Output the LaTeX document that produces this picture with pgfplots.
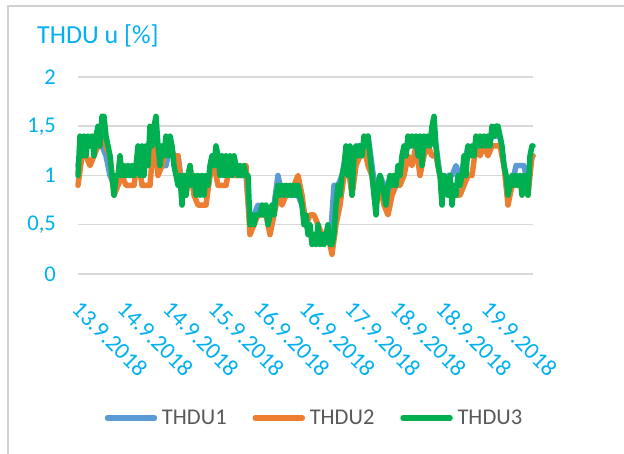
\documentclass[border=0pt]{standalone}
\usepackage{pgfplots}
\pgfplotsset{compat=1.18}
\usepackage{fontspec}
\setmainfont{Carlito}
\definecolor{cA}{HTML}{5B9BD5}
\definecolor{cB}{HTML}{ED7D31}
\definecolor{cC}{HTML}{00B050}
\definecolor{tickc}{HTML}{00B0F0}
\definecolor{legc}{HTML}{595959}
\definecolor{gridc}{HTML}{D9D9D9}
\definecolor{framec}{HTML}{D0D0D0}
\begin{document}
\begin{tikzpicture}
\useasboundingbox (0,0) rectangle (624pt,454pt);
\draw[framec, line width=1.5pt] (7.8pt,0pt) -- (7.8pt,448.2pt) -- (624pt,448.2pt);
\node[anchor=base west, inner sep=0pt, text=tickc, font=\fontsize{26}{30}\selectfont] at (37pt,410.7pt) {THDU u [\%]};
\begin{axis}[
  at={(78pt,180pt)}, anchor=south west,
  scale only axis, width=455pt, height=197pt,
  xmin=78, xmax=533, ymin=0, ymax=2,
  clip=false,
  axis line style={draw=none},
  major tick length=0pt,
  ymajorgrids, grid style={gridc, line width=1.5pt},
  ytick={0,0.5,1,1.5,2},
  xtick={78,123.5,169,214.5,260,305.5,351,396.5,442,487.5},
  xticklabels={13.9.2018,14.9.2018,14.9.2018,15.9.2018,16.9.2018,16.9.2018,17.9.2018,18.9.2018,18.9.2018,19.9.2018},
  /pgf/number format/assume math mode=true,
  /pgf/number format/use comma,
  yticklabel={\pgfmathprintnumber{\tick}\hspace*{22pt}},
  xticklabel shift=25pt,
  yticklabel style={font=\fontsize{22.5}{26}\selectfont, text=tickc, anchor=east, inner sep=0pt},
  xticklabel style={font=\fontsize{23.5}{27}\selectfont, text=tickc, inner sep=0pt, xshift=4pt, rotate=-45, anchor=north west},
  every axis plot/.append style={line join=round, line cap=round},
  legend columns=3,
  legend image code/.code={\path[draw=none,fill=none] (0pt,-3pt) rectangle (53pt,3pt); \draw[#1, line cap=round] (3pt,0pt) -- (50pt,0pt);},
  legend style={at={(0.0578,-0.731)}, anchor=west, draw=none, fill=none, inner sep=0pt,
    font=\fontsize{22.5}{26}\selectfont, text=legc,
    nodes={inner sep=0pt},
    /tikz/every odd column/.append style={column sep=4.5pt},
    /tikz/every even column/.append style={column sep=25.6pt}},
]
\addplot[cA, line width=5.5pt] coordinates {
(78,1.1)(82,1.3)(86,1.3)(90,1.3)(94,1.3)(98,1.4)(102,1.3)(106,1.2)(110,1.0)(114,0.9)
(118,1.0)(122,1.0)(126,1.0)(130,1.0)(134,1.0)(138,1.1)(142,1.1)(146,1.2)(150,1.3)(154,1.4)
(158,1.3)(162,1.1)(166,1.1)(170,1.3)(174,1.2)(178,1.2)(182,0.9)(186,0.9)(190,1.0)(194,0.9)
(198,0.9)(202,0.9)(206,0.9)(210,1.0)(214,1.1)(218,1.1)(222,1.1)(226,1.1)(230,1.1)(234,1.0)
(238,1.0)(242,1.0)(246,1.0)(250,0.5)(254,0.6)(258,0.7)(262,0.6)(266,0.6)(270,0.6)(274,0.7)
(278,1.0)(282,0.8)(286,0.8)(290,0.8)(294,0.8)(298,0.8)(302,0.7)(306,0.5)(310,0.4)(314,0.4)
(318,0.4)(322,0.4)(326,0.4)(330,0.3)(334,0.9)(338,0.9)(342,1.0)(346,1.2)(350,1.2)(354,1.2)
(358,1.3)(362,1.3)(366,1.3)(368,1.4)(372,1.1)(376,0.8)(380,1.0)(384,0.9)(388,0.8)(392,0.9)
(396,0.9)(400,1.0)(404,1.2)(408,1.3)(412,1.3)(416,1.3)(420,1.3)(424,1.3)(428,1.3)(432,1.4)
(436,1.3)(440,1.0)(444,0.9)(448,1.0)(452,1.0)(456,1.1)(460,1.0)(464,1.1)(468,1.3)(472,1.2)
(476,1.3)(480,1.3)(484,1.3)(488,1.3)(492,1.4)(496,1.4)(500,1.4)(504,1.1)(508,0.9)(512,0.9)
(516,1.1)(520,1.1)(524,1.1)(528,0.9)(532,1.2)(533,1.2)
};
\addplot[cB, line width=5.5pt] coordinates {
(78,0.9)(82,1.2)(86,1.2)(90,1.1)(94,1.2)(98,1.3)(102,1.5)(106,1.3)(110,1.2)(114,0.8)
(118,0.9)(122,1.0)(126,0.9)(130,0.9)(134,0.9)(138,1.2)(142,0.9)(146,0.9)(150,0.9)(154,1.4)
(158,1.0)(162,1.1)(166,1.3)(170,1.3)(174,1.2)(178,1.2)(182,0.8)(186,0.8)(190,1.1)(194,0.8)
(198,0.7)(202,0.7)(206,0.7)(210,1.0)(214,1.1)(218,0.9)(222,0.9)(226,0.9)(230,1.1)(234,1.0)
(238,1.0)(242,1.0)(246,1.1)(250,0.4)(254,0.5)(258,0.6)(262,0.6)(266,0.6)(270,0.4)(274,0.6)
(278,0.8)(282,0.7)(286,0.8)(290,0.8)(294,0.9)(298,1.0)(302,0.8)(306,0.5)(310,0.6)(314,0.6)
(318,0.5)(322,0.4)(326,0.4)(330,0.3)(332,0.2)(336,0.5)(340,0.7)(344,1.0)(348,1.1)(352,0.8)
(356,1.1)(360,1.2)(364,1.3)(368,1.1)(372,1.0)(376,0.7)(380,0.9)(384,0.7)(388,0.6)(392,0.8)
(396,0.9)(400,0.9)(404,1.0)(408,1.2)(412,1.1)(416,1.3)(420,1.0)(424,1.2)(428,1.3)(432,1.2)
(436,1.2)(440,1.0)(444,0.9)(448,0.8)(452,0.8)(456,0.8)(460,0.8)(464,0.9)(468,1.0)(472,1.0)
(476,1.3)(480,1.2)(484,1.3)(488,1.2)(492,1.3)(496,1.3)(500,1.3)(504,1.1)(508,0.7)(512,0.9)
(516,0.9)(520,0.9)(524,0.9)(528,0.8)(532,1.2)(533,1.2)
};
\addplot[cC, line width=5.5pt] coordinates {
(78,1.0)(80,1.4)(82,1.2)(84,1.4)(86,1.2)(88,1.4)(90,1.3)(92,1.4)(94,1.2)(96,1.4)
(98,1.5)(100,1.3)(102,1.6)(104,1.6)(106,1.4)(108,1.3)(110,1.2)(112,1.0)(114,0.8)(116,1.0)
(118,1.0)(120,1.2)(122,1.0)(124,1.1)(126,1.0)(128,1.1)(130,1.0)(132,1.1)(134,1.0)(136,1.1)
(138,1.3)(140,1.0)(142,1.3)(144,1.0)(146,1.3)(148,1.1)(150,1.5)(152,1.3)(154,1.5)(156,1.6)
(158,1.3)(160,1.1)(162,1.3)(164,1.2)(166,1.4)(168,1.2)(170,1.4)(172,1.3)(174,1.1)(176,1.0)
(178,0.9)(180,1.0)(182,0.7)(184,1.0)(186,0.8)(188,1.0)(190,1.1)(192,0.9)(194,1.0)(196,0.8)
(198,1.0)(200,0.8)(202,1.0)(204,0.8)(206,1.0)(208,0.9)(210,1.1)(212,1.2)(214,1.1)(216,1.3)
(218,1.2)(220,1.0)(222,1.2)(224,1.0)(226,1.2)(228,1.0)(230,1.2)(232,1.0)(234,1.2)(236,1.1)
(238,1.0)(240,1.1)(242,1.0)(244,1.1)(246,1.0)(248,1.0)(250,0.5)(252,0.6)(254,0.5)(256,0.6)
(258,0.6)(260,0.6)(262,0.7)(264,0.6)(266,0.7)(268,0.5)(270,0.6)(272,0.7)(274,0.6)(276,0.8)
(278,0.9)(280,0.8)(282,0.9)(284,0.8)(286,0.9)(288,0.8)(290,0.9)(292,0.8)(294,0.9)(296,0.8)
(298,0.9)(300,0.8)(302,0.7)(304,0.5)(306,0.6)(308,0.4)(310,0.5)(312,0.3)(314,0.4)(316,0.3)
(318,0.5)(320,0.3)(322,0.4)(324,0.3)(326,0.4)(328,0.5)(330,0.3)(332,0.3)(334,0.4)(336,0.7)
(338,0.9)(340,0.8)(342,1.0)(344,1.1)(346,1.3)(348,1.0)(350,1.3)(352,0.8)(354,1.2)(356,1.3)
(358,1.2)(360,1.3)(362,1.2)(364,1.4)(366,1.3)(368,1.4)(370,1.2)(372,1.0)(374,0.8)(376,0.6)
(378,0.9)(380,1.0)(382,0.9)(384,0.8)(386,0.7)(388,0.9)(390,1.0)(392,0.9)(394,1.0)(396,0.9)
(398,1.1)(400,1.0)(402,1.2)(404,1.3)(406,1.2)(408,1.4)(410,1.3)(412,1.4)(414,1.3)(416,1.4)
(418,1.2)(420,1.4)(422,1.1)(424,1.4)(426,1.3)(428,1.4)(430,1.3)(432,1.5)(434,1.6)(436,1.3)
(438,1.1)(440,1.0)(442,0.7)(444,1.0)(446,0.9)(448,0.8)(450,1.0)(452,0.7)(454,0.9)(456,0.8)
(458,1.0)(460,0.9)(462,1.0)(464,1.2)(466,1.0)(468,1.3)(470,1.2)(472,1.3)(474,1.2)(476,1.4)
(478,1.3)(480,1.4)(482,1.3)(484,1.4)(486,1.3)(488,1.4)(490,1.3)(492,1.5)(494,1.4)(496,1.5)
(498,1.5)(500,1.4)(502,1.3)(504,1.1)(506,1.0)(508,0.8)(510,0.9)(512,1.0)(514,0.9)(516,1.0)
(518,0.9)(520,1.0)(522,0.8)(524,1.0)(526,0.9)(528,0.8)(530,1.2)(532,1.3)(533,1.3)
};
\legend{THDU1,THDU2,THDU3}
\end{axis}
\end{tikzpicture}
\end{document}
